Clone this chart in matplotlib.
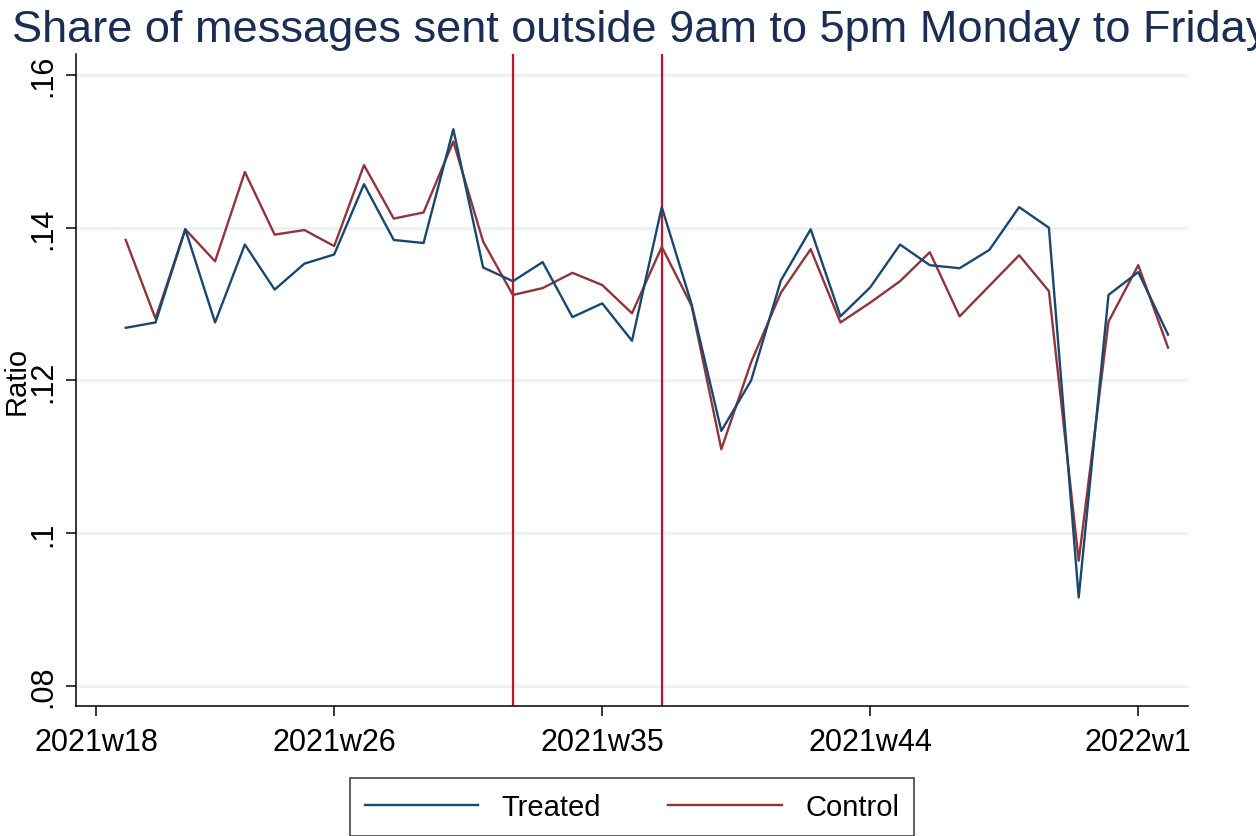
import numpy as np
import matplotlib.pyplot as plt

plt.rcParams['font.family'] = ['Liberation Sans', 'DejaVu Sans']

# weeks counted from 2021w18 (0); data runs 2021w19 .. 2022w2
weeks = np.arange(1, 37)
treated = [0.1269, 0.1276, 0.1398, 0.1276, 0.1378, 0.1319, 0.1353, 0.1365, 0.1457, 0.1384,
           0.1380, 0.1529, 0.1348, 0.1330, 0.1355, 0.1283, 0.1301, 0.1252, 0.1427, 0.1300,
           0.1134, 0.1200, 0.1331, 0.1398, 0.1284, 0.1322, 0.1378, 0.1351, 0.1347, 0.1371,
           0.1427, 0.1400, 0.0916, 0.1312, 0.1342, 0.1260]
control = [0.1384, 0.1281, 0.1398, 0.1356, 0.1473, 0.1391, 0.1397, 0.1376, 0.1482, 0.1412,
           0.1420, 0.1513, 0.1382, 0.1312, 0.1321, 0.1341, 0.1325, 0.1288, 0.1375, 0.1298,
           0.1110, 0.1224, 0.1315, 0.1372, 0.1276, 0.1302, 0.1330, 0.1368, 0.1284, 0.1324,
           0.1364, 0.1317, 0.0964, 0.1277, 0.1351, 0.1243]
xticks = [0, 8, 17, 26, 35]
xticklabels = ['2021w18', '2021w26', '2021w35', '2021w44', '2022w1']
yticks = [0.08, 0.10, 0.12, 0.14, 0.16]
yticklabels = ['.08', '.1', '.12', '.14', '.16']
events = [14, 19]  # 2021w32, 2021w37

fig = plt.figure(figsize=(12.56, 8.37), dpi=100)
ax = fig.add_axes([76/1256, 1-707/837, (1188-76)/1256, (707-55)/837])

for y in yticks:
    ax.axhline(y, color='#eaf2f3', lw=2.2, zorder=0)
for e in events:
    ax.axvline(e, color='#c8102e', lw=1.6, zorder=1)

ax.plot(weeks, treated, color='#1a476f', lw=1.7, label='Treated', zorder=3)
ax.plot(weeks, control, color='#90353b', lw=1.7, label='Control', zorder=2)

ax.set_xlim(-0.67, 36.67)
ax.set_ylim(0.07738, 0.16275)
ax.set_xticks(xticks)
ax.set_xticklabels(xticklabels, fontsize=22)
ax.set_yticks(yticks)
ax.set_yticklabels(yticklabels, fontsize=22, rotation=90, va='center')
ax.tick_params(axis='both', length=7, width=1.1, color='black')
ax.tick_params(axis='x', pad=8)
ax.tick_params(axis='y', pad=6)
for s in ['top', 'right']:
    ax.spines[s].set_visible(False)
for s in ['left', 'bottom']:
    ax.spines[s].set_linewidth(1.1)

fig.text(17/1256, 1-381/837, 'Ratio', rotation=90, fontsize=21, ha='center', va='center')
fig.text(12/1256, 1-42/837, 'Share of messages sent outside 9am to 5pm Monday to Friday',
         fontsize=32.5, color='#1a2e55', ha='left', va='baseline')

leg = fig.legend(loc='center', bbox_to_anchor=(632/1256, 1-808/837), ncol=2, fontsize=21,
                 frameon=True, fancybox=False, edgecolor='black', handlelength=3.9,
                 columnspacing=2.3, borderpad=0.5, handletextpad=0.8)
leg.get_frame().set_linewidth(1.1)

fig.savefig('out.png', dpi=100)
